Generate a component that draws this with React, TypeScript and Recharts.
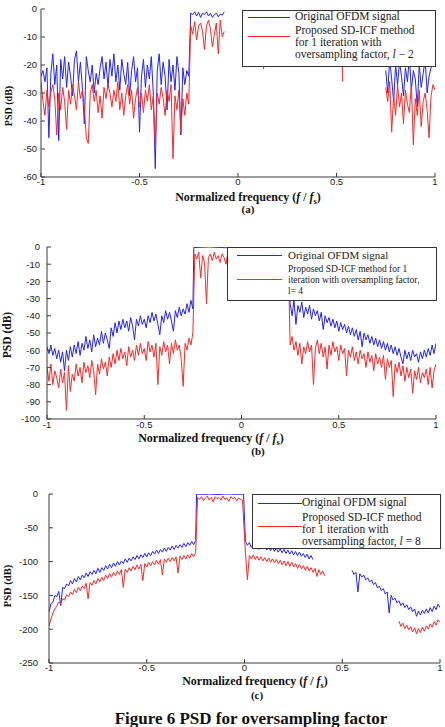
import React from "react";
import { LineChart, Line, XAxis, YAxis } from "recharts";

const BLUE = "#2222ff";
const RED = "#ff2626";
const FRAME = "#3a3a3a";
const SERIF = "'Liberation Serif', 'DejaVu Serif', serif";
const SANS = "'Liberation Sans', Arial, sans-serif";

const FREQ_TICKS = [-1, -0.5, 0, 0.5, 1];
const A_PSD_TICKS = [0, -10, -20, -30, -40, -50, -60];
const B_PSD_TICKS = [0, -10, -20, -30, -40, -50, -60, -70, -80, -90, -100];
const C_PSD_TICKS = [0, -50, -100, -150, -200, -250];

// (a) l = 2
const A_BLUE_OUT = [-24, -22, -26, -21, -46, -23, -16, -27, -20, -47, -18, -25, -17, -28, -19, -24, -31, -18, -15, -26, -19, -28, -41, -17, -22, -26, -20, -30, -23, -27, -21, -17, -25, -19, -28, -18, -24, -16, -26, -20, -29, -18, -23, -27, -19, -31, -22, -17, -26, -21, -44, -24, -18, -28, -20, -25, -17, -30, -57, -22, -16, -27, -19, -24, -36, -18, -26, -20, -29, -17, -23, -45, -21, -27, -22, -24];
const A_BLUE_BAND = [-1.5, -2, -1, -2.5, -1.2, -3, -1.5, -2, -1, -2.5, -1.5, -3, -2, -1.5, -2.8, -1.8, -2.2, -1];
const A_BLUE_EDGE = [-22, -30, -18, -25, -33, -20, -27, -19, -24, -31, -21, -26, -17, -29, -22, -25, -35, -20, -28, -23, -18, -30, -24, -21, -19, -15];
const A_RED_OUT = [-26, -33, -38, -29, -35, -30, -27, -32, -45, -30, -36, -28, -33, -43, -29, -34, -27, -31, -36, -26, -32, -29, -35, -46, -48, -30, -27, -33, -29, -37, -31, -39, -28, -32, -27, -30, -35, -29, -33, -26, -36, -30, -38, -31, -27, -34, -29, -39, -32, -28, -35, -30, -37, -29, -33, -27, -36, -31, -49, -30, -34, -28, -32, -38, -29, -33, -27, -53.5, -31, -36, -29, -44, -32, -38, -30, -34];
const A_RED_BAND = [-6, -9, -4.5, -11, -6, -5, -8, -14.5, -6, -4, -7, -13.5, -9, -5, -16, -4, -10, -8];
const A_RED_STUB_1 = [-20.7, -21.5];
const A_RED_STUB_2 = [-20.7, -26];
const A_RED_EDGE = [-28, -33, -26, -44, -31, -38, -27, -35, -30, -41, -29, -34, -37, -27, -48.5, -32, -38, -29, -42, -33, -30, -36, -46, -31, -27, -29];

// (b) l = 4
const B_BLUE_OUT = [-58, -62, -57, -63, -59, -65, -60, -67, -61, -72, -60, -66, -58, -64, -57, -62, -55, -63, -56, -60, -52, -59, -54, -61, -51, -58, -53, -57, -49, -56, -50, -54, -59, -47, -52, -44, -50, -43, -48, -42, -47, -43, -49, -41, -46, -54, -42, -46, -40, -45, -42, -47, -40, -44, -38, -43, -39, -45, -51, -40, -44, -37, -42, -38, -43, -49, -37, -41, -35, -40, -36, -39, -33, -38, -31, -36];
const B_BLUE_BAND = [-0.3, 0, -0.4, 0, -0.2, 0, -0.3];
const B_BLUE_UPPER = [-33, -40, -31, -45, -34, -38, -32, -41, -35, -39, -34, -42, -36, -40, -37, -43, -38, -48, -40, -44, -41, -46, -42, -47, -43, -49, -44, -48, -45, -50, -46, -51, -47, -52, -48, -54, -49, -58, -50, -54, -51, -56, -52, -57, -53, -58, -54, -59, -55, -60, -56, -61, -57, -62, -58, -63, -59, -64, -68, -60, -65, -61, -66, -60, -64, -62, -67, -61, -65, -60, -64, -59, -63, -57, -62, -56];
const B_RED_OUT = [-70, -78, -68, -80, -72, -76, -82, -71, -79, -73, -95, -69, -84, -74, -78, -68, -75, -70, -79, -67, -73, -69, -76, -66, -72, -86, -68, -74, -65, -71, -67, -75, -64, -70, -62, -68, -60, -66, -59, -65, -61, -69, -58, -64, -60, -66, -57, -63, -56, -62, -59, -66, -55, -61, -57, -64, -56, -80, -58, -63, -55, -61, -57, -68, -56, -62, -54, -60, -57, -65, -81, -56, -60, -53, -57, -50];
const B_RED_BAND = [-4, -7, -3, -18, -5, -9, -33, -6, -4, -8, -3, -7, -5, -9, -4, -6, -10, -3, -7, -5, -4, -8, -6, -3, -9, -5, -4, -7, -6, -3, -8, -5, -10, -4, -6, -3, -7, -5, -9, -4, -6, -3, -8, -5, -4, -7, -6, -3, -5];
const B_RED_UPPER = [-57, -52, -60, -55, -63, -56, -68, -58, -62, -55, -61, -57, -80, -59, -54, -62, -56, -64, -58, -71, -57, -63, -55, -61, -58, -66, -57, -62, -59, -75, -60, -64, -58, -66, -61, -68, -60, -65, -62, -70, -61, -67, -63, -72, -62, -68, -64, -70, -63, -77, -65, -70, -66, -87, -68, -73, -67, -75, -69, -78, -70, -76, -71, -85, -72, -77, -70, -79, -73, -76, -71, -80, -70, -82, -72, -68];

// (c) l = 8
const C_BLUE_OUT = [-175, -162, -160, -150, -152, -144, -165, -138, -140, -133, -136, -128, -133, -125, -130, -122, -127, -120, -124, -117, -122, -115, -119, -113, -118, -110, -116, -109, -113, -106, -111, -104, -109, -102, -107, -100, -105, -99, -103, -96, -101, -95, -99, -93, -97, -91, -96, -90, -94, -88, -93, -87, -91, -85, -89, -83, -88, -82, -86, -80, -85, -79, -83, -77, -82, -76, -80, -75, -79, -73, -78, -72, -76, -70, -75, -69];
const C_BLUE_BAND = [0, -0.5, 0, -0.8, -0.2, 0, -0.5, 0];
const C_BLUE_NEAR = [-70, -76, -72, -79, -74, -80, -75, -82, -77, -81, -76, -83, -78, -84, -79, -85, -80, -86, -81, -87, -82, -88, -83, -89, -84, -90, -85, -91, -86, -92, -88, -94, -89, -96, -91, -97];
const C_BLUE_FAR = [-113, -119, -116, -145, -118, -123, -120, -127, -124, -130, -127, -134, -131, -139, -136, -143, -140, -148, -145, -176, -150, -157, -154, -161, -158, -165, -161, -168, -164, -171, -167, -174, -170, -181, -173, -179, -172, -177, -170, -176, -168, -174, -166, -171, -163, -168];
const C_RED_OUT = [-195, -185, -176, -170, -166, -160, -162, -155, -157, -149, -152, -145, -149, -141, -146, -138, -143, -136, -140, -132, -155, -131, -135, -128, -133, -125, -130, -123, -128, -120, -125, -118, -123, -116, -121, -114, -119, -112, -138, -111, -116, -109, -114, -107, -112, -105, -111, -104, -128, -103, -108, -101, -106, -100, -105, -98, -104, -97, -120, -96, -101, -95, -100, -94, -99, -93, -117, -92, -97, -91, -96, -90, -95, -88, -93, -87];
const C_RED_BAND = [-5, -8, -4, -10, -6, -3, -9, -5, -12, -4, -7, -5, -9, -3, -8, -6, -11, -4, -7, -5, -10, -6, -8, -9];
const C_RED_NEAR = [-88, -127, -91, -96, -90, -97, -92, -98, -93, -99, -94, -100, -95, -101, -96, -102, -97, -103, -98, -105, -99, -106, -100, -107, -101, -108, -103, -110, -104, -111, -106, -113, -107, -114, -109, -116, -110, -122, -112, -119, -114, -121];
const C_RED_FAR = [-188, -196, -191, -199, -194, -201, -196, -204, -198, -207, -199, -205, -197, -203, -195, -200, -192, -197, -189, -194, -186, -190];

type Seg = { from: number; to: number; v: number[]; join?: boolean };
type Pt = { f: number; psd: number | null };

// evenly place each segment's readings between its end frequencies; break the line between segments
function build(segs: Seg[]): Pt[] {
  const out: Pt[] = [];
  segs.forEach((s, k) => {
    if (k > 0 && !s.join) out.push({ f: (segs[k - 1].to + s.from) / 2, psd: null });
    const n = s.v.length;
    s.v.forEach((v, i) => out.push({ f: n === 1 ? s.from : s.from + (i * (s.to - s.from)) / (n - 1), psd: v }));
  });
  return out;
}

const blueA = build([
  { from: -1, to: -0.25, v: A_BLUE_OUT },
  { from: -0.24, to: -0.07, v: A_BLUE_BAND, join: true },
  { from: 0.75, to: 1, v: A_BLUE_EDGE },
]);
const redA = build([
  { from: -1, to: -0.25, v: A_RED_OUT },
  { from: -0.24, to: -0.07, v: A_RED_BAND, join: true },
  { from: 0.13, to: 0.13, v: A_RED_STUB_1 },
  { from: 0.53, to: 0.53, v: A_RED_STUB_2 },
  { from: 0.75, to: 1, v: A_RED_EDGE },
]);
const blueB = build([
  { from: -1, to: -0.25, v: B_BLUE_OUT },
  { from: -0.245, to: 0.245, v: B_BLUE_BAND, join: true },
  { from: 0.25, to: 1, v: B_BLUE_UPPER, join: true },
]);
const redB = build([
  { from: -1, to: -0.25, v: B_RED_OUT },
  { from: -0.24, to: 0.24, v: B_RED_BAND, join: true },
  { from: 0.25, to: 1, v: B_RED_UPPER, join: true },
]);
const blueC = build([
  { from: -1, to: -0.25, v: C_BLUE_OUT },
  { from: -0.245, to: -0.005, v: C_BLUE_BAND, join: true },
  { from: 0.005, to: 0.35, v: C_BLUE_NEAR, join: true },
  { from: 0.55, to: 1, v: C_BLUE_FAR },
]);
const redC = build([
  { from: -1, to: -0.25, v: C_RED_OUT },
  { from: -0.24, to: -0.01, v: C_RED_BAND, join: true },
  { from: 0.005, to: 0.41, v: C_RED_NEAR, join: true },
  { from: 0.79, to: 1, v: C_RED_FAR },
]);

type PanelProps = {
  top: number;
  height: number;
  mTop: number;
  mRight: number;
  yWidth: number;
  xHeight: number;
  xTickMargin: number;
  yTickMargin: number;
  yTicks: number[];
  blue: Pt[];
  red: Pt[];
};

function Panel(p: PanelProps) {
  const yDomain = [p.yTicks[p.yTicks.length - 1], 0];
  const tickStyle = { fontFamily: SANS, fontSize: 9.5, fill: "#222" };
  return (
    <div style={{ position: "absolute", left: 0, top: p.top, width: 445, height: p.height }}>
      <LineChart width={445} height={p.height} margin={{ top: p.mTop, right: p.mRight, left: 0, bottom: 0 }}>
        <XAxis
          dataKey="f"
          type="number"
          domain={[-1, 1]}
          ticks={FREQ_TICKS}
          allowDataOverflow
          height={p.xHeight}
          tickSize={-4}
          tickMargin={p.xTickMargin}
          tick={tickStyle}
          stroke={FRAME}
          interval={0}
        />
        <XAxis
          xAxisId="top"
          orientation="top"
          type="number"
          domain={[-1, 1]}
          ticks={FREQ_TICKS}
          height={0}
          tick={false}
          tickSize={-4}
          stroke={FRAME}
        />
        <YAxis
          type="number"
          domain={yDomain}
          ticks={p.yTicks}
          allowDataOverflow
          width={p.yWidth}
          tickSize={-4}
          tickMargin={p.yTickMargin}
          tick={tickStyle}
          stroke={FRAME}
          interval={0}
        />
        <YAxis
          yAxisId="right"
          orientation="right"
          type="number"
          domain={yDomain}
          ticks={p.yTicks}
          width={0}
          tick={false}
          tickSize={-4}
          stroke={FRAME}
        />
        <Line data={p.blue} dataKey="psd" stroke={BLUE} strokeWidth={1} dot={false} isAnimationActive={false} connectNulls={false} />
        <Line data={p.red} dataKey="psd" stroke={RED} strokeWidth={1} dot={false} isAnimationActive={false} connectNulls={false} />
      </LineChart>
    </div>
  );
}

type LegendText = { y: number; size: number; text: React.ReactNode };
function LegendBox(props: {
  left: number;
  top: number;
  width: number;
  height: number;
  sample: [number, number];
  blueY: number;
  redY: number;
  textX: number;
  texts: LegendText[];
}) {
  const { left, top, width, height, sample, blueY, redY, textX, texts } = props;
  return (
    <>
      <div
        style={{
          position: "absolute",
          left,
          top,
          width,
          height,
          boxSizing: "border-box",
          border: "1.2px solid #333",
          background: "#fff",
        }}
      />
      <div style={{ position: "absolute", left: sample[0], top: blueY, width: sample[1] - sample[0], borderTop: `1px solid ${BLUE}` }} />
      <div style={{ position: "absolute", left: sample[0], top: redY, width: sample[1] - sample[0], borderTop: `1px solid ${RED}` }} />
      {texts.map((t, i) => (
        <div
          key={i}
          style={{
            position: "absolute",
            left: textX,
            top: t.y - t.size * 0.5,
            fontFamily: SERIF,
            fontSize: t.size,
            lineHeight: `${t.size}px`,
            color: "#222",
            whiteSpace: "nowrap",
          }}
        >
          {t.text}
        </div>
      ))}
    </>
  );
}

function Centered(props: { x: number; y: number; size: number; rotate?: boolean; children: React.ReactNode }) {
  return (
    <div
      style={{
        position: "absolute",
        left: props.x,
        top: props.y,
        transform: `translate(-50%, -50%)${props.rotate ? " rotate(-90deg)" : ""}`,
        fontFamily: SERIF,
        fontWeight: "bold",
        fontSize: props.size,
        lineHeight: 1,
        color: "#111",
        whiteSpace: "nowrap",
      }}
    >
      {props.children}
    </div>
  );
}

const freqLabel = (
  <>
    Normalized frequency (<i>f</i> / <i>f</i>
    <sub style={{ fontSize: "0.7em", lineHeight: 0 }}>s</sub>)
  </>
);

export default function App() {
  return (
    <div style={{ position: "absolute", left: 0, top: 0, width: 445, height: 727, background: "#fff", overflow: "hidden" }}>
      <Panel top={0} height={190} mTop={9} mRight={10} yWidth={41} xHeight={13} xTickMargin={5} yTickMargin={8} yTicks={A_PSD_TICKS} blue={blueA} red={redA} />
      <LegendBox
        left={242}
        top={10}
        width={194}
        height={57}
        sample={[248, 290]}
        blueY={17}
        redY={36}
        textX={295}
        texts={[
          { y: 17, size: 11.5, text: "Original OFDM signal" },
          { y: 31, size: 11.5, text: "Proposed SD-ICF method" },
          { y: 43, size: 11.5, text: "for 1 iteration with" },
          { y: 55, size: 11.5, text: <>oversampling factor, <i>l</i> − 2</> },
        ]}
      />
      <Centered x={9} y={106} size={10} rotate>PSD (dB)</Centered>
      <Centered x={248} y={197} size={12}>{freqLabel}</Centered>
      <Centered x={248} y={209} size={11}>(a)</Centered>

      <Panel top={240} height={195} mTop={7} mRight={9} yWidth={47} xHeight={16} xTickMargin={6} yTickMargin={11} yTicks={B_PSD_TICKS} blue={blueB} red={redB} />
      <LegendBox
        left={227}
        top={247}
        width={210}
        height={54}
        sample={[237, 282]}
        blueY={255}
        redY={279}
        textX={288}
        texts={[
          { y: 255, size: 11, text: "Original OFDM signal" },
          { y: 270, size: 9.5, text: "Proposed SD-ICF method for 1" },
          { y: 281, size: 9.5, text: "iteration with oversampling factor," },
          { y: 292, size: 9.5, text: "l= 4" },
        ]}
      />
      <Centered x={8} y={335} size={11.5} rotate>PSD (dB)</Centered>
      <Centered x={211} y={438} size={12}>{freqLabel}</Centered>
      <Centered x={258} y={451} size={11}>(b)</Centered>

      <Panel top={488} height={190} mTop={6} mRight={5} yWidth={49} xHeight={15} xTickMargin={5} yTickMargin={15} yTicks={C_PSD_TICKS} blue={blueC} red={redC} />
      <LegendBox
        left={252}
        top={494}
        width={189}
        height={55}
        sample={[258, 302]}
        blueY={503}
        redY={526}
        textX={302}
        texts={[
          { y: 503, size: 11.5, text: "Original OFDM signal" },
          { y: 518, size: 11.5, text: "Proposed SD-ICF method" },
          { y: 530, size: 11.5, text: "for 1 iteration with" },
          { y: 542, size: 11.5, text: <>oversampling factor, <i>l</i> = 8</> },
        ]}
      />
      <Centered x={8} y={586} size={10.5} rotate>PSD (dB)</Centered>
      <Centered x={255} y={681} size={12}>{freqLabel}</Centered>
      <Centered x={257} y={695} size={11}>(c)</Centered>

      <div
        style={{
          position: "absolute",
          left: 0,
          top: 709,
          width: 502,
          textAlign: "center",
          fontFamily: SERIF,
          fontWeight: "bold",
          fontSize: 17,
          lineHeight: "20px",
          color: "#111",
          whiteSpace: "nowrap",
        }}
      >
        Figure 6 PSD for oversampling factor
      </div>
    </div>
  );
}
